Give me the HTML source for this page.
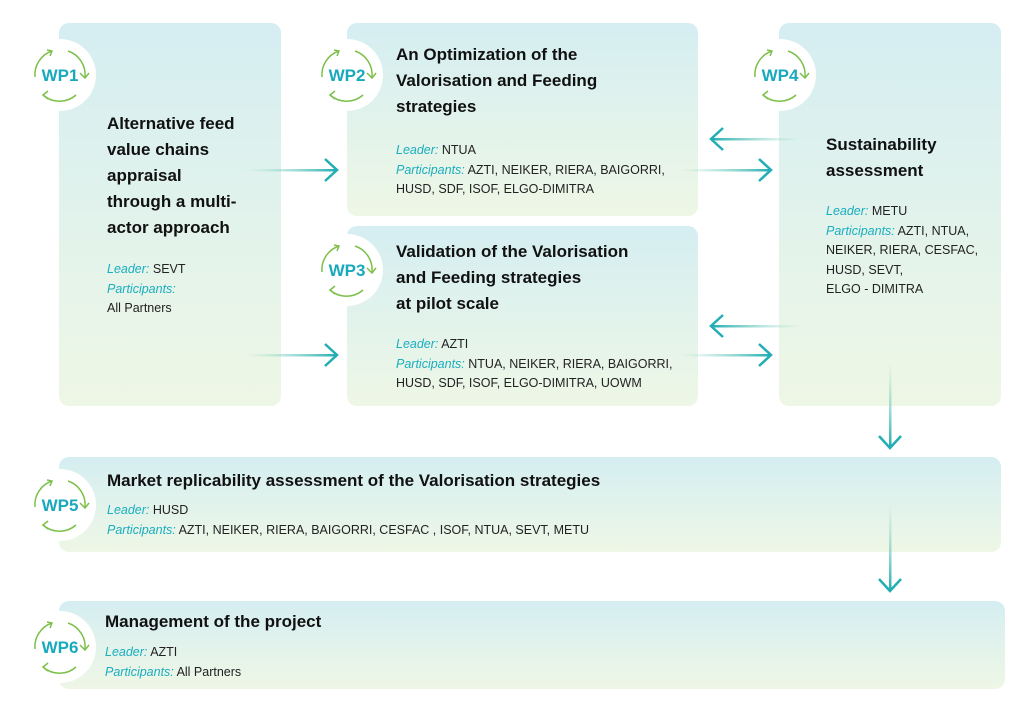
<!DOCTYPE html>
<html><head><meta charset="utf-8"><style>
body{margin:0;width:1024px;height:713px;background:#fff;position:relative;overflow:hidden;font-family:"Liberation Sans",sans-serif;}
.box{position:absolute;border-radius:10px;background:linear-gradient(#d5eef2,#eef7e5);}
.t{position:absolute;font-weight:bold;font-size:17px;line-height:26px;color:#111;}
.b{position:absolute;font-size:12.5px;line-height:19.5px;color:#222;}
.b i{color:#1aaebf;}
svg.a{position:absolute;left:0;top:0;}
</style></head><body>
<div class="box" style="left:59px;top:23px;width:222px;height:383px"></div>
<div class="box" style="left:347px;top:23px;width:351px;height:193px"></div>
<div class="box" style="left:347px;top:226px;width:351px;height:180px"></div>
<div class="box" style="left:779px;top:23px;width:222px;height:383px"></div>
<div class="box" style="left:59px;top:457px;width:942px;height:95px"></div>
<div class="box" style="left:59px;top:601px;width:946px;height:88px"></div>

<svg class="a" width="1024" height="713">
<defs>
<linearGradient id="gr" x1="0" x2="1"><stop offset="0" stop-color="#8fd6b8" stop-opacity="0"/><stop offset="1" stop-color="#22aeb4"/></linearGradient>
<linearGradient id="gl" x1="1" x2="0"><stop offset="0" stop-color="#8fd6b8" stop-opacity="0"/><stop offset="1" stop-color="#22aeb4"/></linearGradient>
<linearGradient id="gd" x1="0" y1="0" x2="0" y2="1"><stop offset="0" stop-color="#8fd6b8" stop-opacity="0"/><stop offset="1" stop-color="#22aeb4"/></linearGradient>
<g id="badge">
<circle r="36" fill="#fff"/>
<g fill="none" stroke="#7cc04a" stroke-width="1.5">
<path d="M-25,2 A25,25 0 0 1 -8,-24"/><path d="M-13,-25 L-8,-24 L-10,-19"/>
<path d="M8,-24 A25,25 0 0 1 25,2"/><path d="M20,-2 L25,3 L29,-2"/>
<path d="M16,20 A25,25 0 0 1 -17,20"/><path d="M-12,16 L-17,20 L-12,24"/>
</g></g>
</defs>
<rect x="245" y="169" width="91" height="2.5" fill="url(#gr)"/>
<rect x="245" y="354" width="91" height="2.5" fill="url(#gr)"/>
<rect x="680" y="169" width="90" height="2.5" fill="url(#gr)"/>
<rect x="680" y="354" width="90" height="2.5" fill="url(#gr)"/>
<rect x="712" y="138" width="90" height="2.5" fill="url(#gl)"/>
<rect x="712" y="325" width="90" height="2.5" fill="url(#gl)"/>
<rect x="889" y="362" width="2.5" height="85" fill="url(#gd)"/>
<rect x="889" y="503" width="2.5" height="87" fill="url(#gd)"/>
<g stroke-width="2.5" fill="none" stroke="#22aeb4">
<path d="M325,159 L337,170 L325,181"/>
<path d="M325,344 L337,355 L325,366"/>
<path d="M759,159 L771,170 L759,181"/>
<path d="M759,344 L771,355 L759,366"/>
<path d="M723,128 L711,139 L723,150"/>
<path d="M723,315 L711,326 L723,337"/>
<path d="M879,436 L890,448 L901,436"/>
<path d="M879,579 L890,591 L901,579"/>
</g>
<g font-family="Liberation Sans,sans-serif" font-weight="bold" font-size="17" fill="#19a9bd" text-anchor="middle">
<use href="#badge" x="60" y="75"/><text x="60" y="81">WP1</text>
<use href="#badge" x="347" y="75"/><text x="347" y="81">WP2</text>
<use href="#badge" x="347" y="270"/><text x="347" y="276">WP3</text>
<use href="#badge" x="780" y="75"/><text x="780" y="81">WP4</text>
<use href="#badge" x="60" y="505"/><text x="60" y="511">WP5</text>
<use href="#badge" x="60" y="647"/><text x="60" y="653">WP6</text>
</g>
</svg>

<div class="t" style="left:107px;top:111px">Alternative feed<br>value chains<br>appraisal<br>through a multi-<br>actor approach</div>
<div class="b" style="left:107px;top:260px"><i>Leader:</i> SEVT<br><i>Participants:</i><br>All Partners</div>

<div class="t" style="left:396px;top:42px">An Optimization of the<br>Valorisation and Feeding<br>strategies</div>
<div class="b" style="left:396px;top:141px"><i>Leader:</i> NTUA<br><i>Participants:</i> AZTI, NEIKER, RIERA, BAIGORRI,<br>HUSD, SDF, ISOF, ELGO-DIMITRA</div>

<div class="t" style="left:396px;top:239px">Validation of the Valorisation<br>and Feeding strategies<br>at pilot scale</div>
<div class="b" style="left:396px;top:335px"><i>Leader:</i> AZTI<br><i>Participants:</i> NTUA, NEIKER, RIERA, BAIGORRI,<br>HUSD, SDF, ISOF, ELGO-DIMITRA, UOWM</div>

<div class="t" style="left:826px;top:132px">Sustainability<br>assessment</div>
<div class="b" style="left:826px;top:202px"><i>Leader:</i> METU<br><i>Participants:</i> AZTI, NTUA,<br>NEIKER, RIERA, CESFAC,<br>HUSD, SEVT,<br>ELGO - DIMITRA</div>

<div class="t" style="left:107px;top:468px">Market replicability assessment of the Valorisation strategies</div>
<div class="b" style="left:107px;top:501px"><i>Leader:</i> HUSD<br><i>Participants:</i> AZTI, NEIKER, RIERA, BAIGORRI, CESFAC , ISOF, NTUA, SEVT, METU</div>

<div class="t" style="left:105px;top:609px">Management of the project</div>
<div class="b" style="left:105px;top:643px"><i>Leader:</i> AZTI<br><i>Participants:</i> All Partners</div>
</body></html>
